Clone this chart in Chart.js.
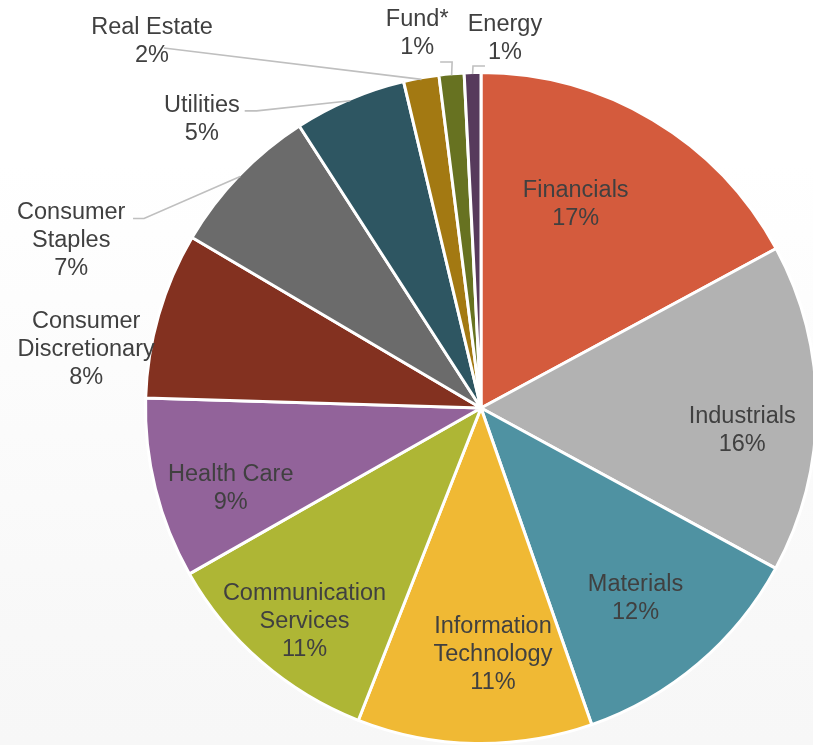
<!DOCTYPE html>
<html>
<head>
<meta charset="utf-8">
<script src="https://cdn.jsdelivr.net/npm/chart.js@4/dist/chart.umd.min.js"></script>
<style>
  html, body { margin: 0; padding: 0; overflow: hidden; width: 813px; height: 745px; }
  body { background: linear-gradient(to bottom, #ffffff 0%, #ffffff 22%, #f8f8f8 85%, #f7f7f7 100%); }
  #wrap { width: 830px; height: 760px; }
</style>
</head>
<body>
<div id="wrap"><canvas id="pie" width="830" height="760"></canvas></div>
<script>
  // sector weights, % of portfolio
  const categories = [
    "Financials", "Industrials", "Materials", ["Information", "Technology"],
    ["Communication", "Services"], "Health Care", ["Consumer", "Discretionary"],
    ["Consumer", "Staples"], "Utilities", "Real Estate", "Fund*", "Energy"
  ];
  const weights = [17.1, 15.8, 11.7, 11.3, 10.8, 8.7, 8.0, 7.4, 5.4, 1.7, 1.2, 0.8];
  const colors = [
    "#d45b3d", "#b2b2b2", "#4f92a2", "#f0b934", "#aeb635", "#92639a",
    "#833120", "#6b6b6b", "#2e5662", "#a37912", "#677221", "#573a5c"
  ];

  // where Excel put each label, relative to the pie centre (px at r = 335)
  const labelOffsets = [
    [95, -206], [262, 21], [155, 189], [12, 245], [-177, 212], [-251, 79],
    [-396, -61], [-411, -170], [-280, -291], [-330, -370], [-64, -378], [24, -373]
  ];
  // leader lines for the outside labels: [startX, startY, elbow dx]
  const leaders = [
    null, null, null, null, null, null, null,
    [-349, -190, 11], [-237, -298, 12], [-318, -361, 0], [-41, -347, 12], [4, -343, -12]
  ];

  const FONT = '23.5px "Liberation Sans", Arial, sans-serif';
  const LINE_H = 28;
  const REF_R = 335;

  const labelPlugin = {
    id: "sliceLabels",
    afterDatasetsDraw(chart) {
      const ctx = chart.ctx;
      const arcs = chart.getDatasetMeta(0).data;
      const total = weights.reduce((a, b) => a + b, 0);
      ctx.save();
      arcs.forEach((arc, i) => {
        const { x, y, startAngle, endAngle, outerRadius } = arc.getProps(
          ["x", "y", "startAngle", "endAngle", "outerRadius"], true);
        const k = (outerRadius - 1.5) / REF_R;
        const ld = leaders[i];
        if (ld) {
          const mid = (startAngle + endAngle) / 2;
          const r = outerRadius - 1.5;
          const sx = x + ld[0] * k, sy = y + ld[1] * k;
          ctx.strokeStyle = "#bfbfbf";
          ctx.lineWidth = 1.6;
          ctx.beginPath();
          ctx.moveTo(sx, sy);
          ctx.lineTo(sx + ld[2], sy);
          ctx.lineTo(x + Math.cos(mid) * r, y + Math.sin(mid) * r);
          ctx.stroke();
        }
        const name = categories[i];
        const lines = (Array.isArray(name) ? name.slice() : [name]);
        lines.push(Math.round(weights[i] / total * 100) + "%");
        const cx = x + labelOffsets[i][0] * k;
        const cy = y + labelOffsets[i][1] * k + 2;
        ctx.font = FONT;
        ctx.fillStyle = "#404040";
        ctx.textAlign = "center";
        ctx.textBaseline = "middle";
        const top = cy - (lines.length - 1) * LINE_H / 2;
        lines.forEach((t, j) => ctx.fillText(t, cx, top + j * LINE_H));
      });
      ctx.restore();
    }
  };

  new Chart(document.getElementById("pie"), {
    type: "pie",
    data: {
      labels: categories,
      datasets: [{
        data: weights,
        backgroundColor: colors,
        borderColor: "#ffffff",
        borderWidth: 3
      }]
    },
    options: {
      responsive: false,
      animation: false,
      devicePixelRatio: 1,
      layout: { padding: { left: 144, right: 12, top: 71, bottom: 15 } },
      plugins: {
        legend: { display: false },
        tooltip: { enabled: false }
      }
    },
    plugins: [labelPlugin]
  });
</script>
</body>
</html>
